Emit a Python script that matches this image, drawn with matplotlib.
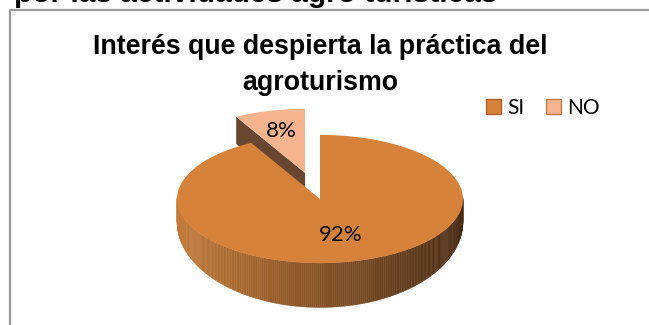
import numpy as np
import matplotlib.pyplot as plt
from matplotlib.patches import Polygon, Patch
from matplotlib.lines import Line2D
from matplotlib.colors import to_rgb

# chart data
categories = ["SI", "NO"]
values = [92, 8]
colors = ["#D7823B", "#F5B48E"]
explode = [0.0, 0.42]
title = "Interés que despierta la práctica del\nagroturismo"
page_text = "por las actividades agro turísticas"

TILT = 0.448      # vertical squash of the top face
WALL = 0.19       # depth of the radial walls
side_left = "#C27A38"
side_right = "#4A2C14"
wall_color = "#684630"

fig = plt.figure(figsize=(6.49, 3.25), dpi=100)

# page text cut off at the top and the chart frame
fig.text(14 / 649, 1 - 2.5 / 325, page_text, ha="left", va="baseline",
         fontsize=21.5, fontweight="bold", family="Liberation Sans")
fig.add_artist(Line2D([10 / 649, 10 / 649, 1.0], [0.0, 1 - 10 / 325, 1 - 10 / 325],
                      transform=fig.transFigure, color="#9A9A9A", lw=1.6))

ax = fig.add_axes([150 / 649, 5 / 325, 340 / 649, 225 / 325])
ax.set_xlim(-1.189, 1.189)
ax.set_ylim(-0.846, 0.727)
ax.axis("off")


def pt(theta, r=1.0, off=(0.0, 0.0)):
    t = np.radians(theta)
    return off[0] + r * np.cos(t), off[1] + r * TILT * np.sin(t)


def side_depth(theta):
    return 0.16 + 0.15 * max(0.0, -np.sin(np.radians(theta)))


total = float(sum(values))
cum = np.cumsum([0] + values) / total
slices = []
for i in range(len(values)):
    a0 = 90 - 360 * cum[i]
    a1 = 90 - 360 * cum[i + 1]
    mid = (a0 + a1) / 2
    off = pt(mid, explode[i])
    slices.append((i, a0, a1, mid, off))

# back slices first
slices.sort(key=lambda s: -np.sin(np.radians(s[3])))

c_left = np.array(to_rgb(side_left))
c_right = np.array(to_rgb(side_right))

for i, a0, a1, mid, off in slices:
    # radial walls that face the viewer
    for edge, normal in ((a0, a0 + 90), (a1, a1 - 90)):
        if np.sin(np.radians(normal)) < -0.05:
            ox, oy = pt(edge, 1.0, off)
            quad = [off, (ox, oy), (ox, oy - WALL), (off[0], off[1] - WALL)]
            ax.add_patch(Polygon(quad, closed=True, fc=wall_color, ec="none"))
    # outer side wall with a left-to-right shading
    th = np.linspace(a0, a1, 400)
    for k in range(len(th) - 1):
        t1, t2 = th[k], th[k + 1]
        if np.sin(np.radians(t1)) > 0.02 and np.sin(np.radians(t2)) > 0.02:
            continue
        x1, y1 = pt(t1, 1.0, off)
        x2, y2 = pt(t2, 1.0, off)
        f = (np.cos(np.radians((t1 + t2) / 2)) + 1) / 2
        c = c_left * (1 - f) + c_right * f
        quad = [(x1, y1), (x2, y2), (x2, y2 - side_depth(t2)), (x1, y1 - side_depth(t1))]
        ax.add_patch(Polygon(quad, closed=True, fc=c, ec=c, lw=0.3))
    # top face
    arc = [pt(t, 1.0, off) for t in np.linspace(a0, a1, 200)]
    ax.add_patch(Polygon([off] + arc, closed=True, fc=colors[i], ec="none"))

# percentage labels
label_r = [0.58, 0.68]
for i, a0, a1, mid, off in slices:
    x, y = pt(mid, label_r[i], off)
    ax.text(x, y, f"{values[i] / total * 100:.0f}%", ha="center", va="center",
            fontsize=16, family="Lato")

fig.text(320 / 649, 1 - 65 / 325, title, ha="center", va="center",
         fontsize=19.3, fontweight="bold", family="Liberation Sans", linespacing=1.45)

handles = [Patch(fc=colors[0], ec="#B0612A", lw=1.0),
           Patch(fc=colors[1], ec="#C07A48", lw=1.0)]
fig.legend(handles, categories, loc="center", bbox_to_anchor=(543 / 649, 1 - 108 / 325),
           ncol=2, frameon=False, handlelength=0.75, handleheight=0.75,
           handletextpad=0.3, columnspacing=1.0, prop={"family": "Lato", "size": 15})

fig.savefig("out.png", dpi=100)
